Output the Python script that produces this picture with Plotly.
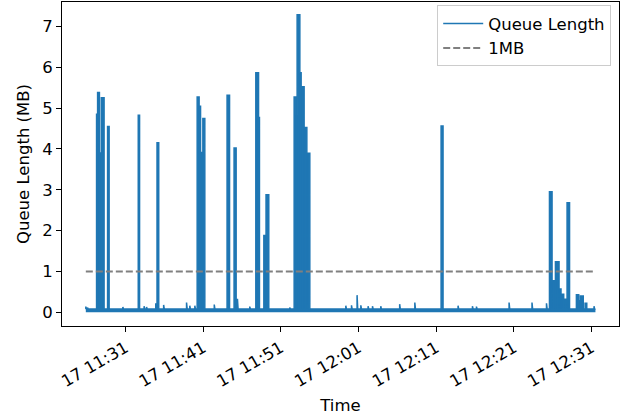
import pandas as pd
import plotly.graph_objects as go

# ---------------- data ----------------
DAY = "2019-04-17"
START = "11:25:54"          # first sample
END_S = 3936                # last sample, seconds after START
BASELINE_MB = 0.08          # idle queue level
THRESHOLD_MB = 1.0          # "1MB" reference level

# queue bursts: start / end (seconds after START) and queue length (MB)
spike_start = [83, 91, 105, 120, 168, 405, 550, 860, 875, 886, 904, 1091, 1145,
               1313, 1334, 1375, 1392, 1609, 1622, 1632, 1653, 1663, 1686, 1707,
               2744, 3581, 3601, 3627, 3655, 3670, 3691, 3717, 3789, 3807, 3820, 3856]
spike_end = [91, 105, 120, 141, 180, 415, 563, 875, 886, 904, 919, 1110, 1161,
             1334, 1341, 1392, 1413, 1622, 1632, 1653, 1663, 1686, 1707, 1730,
             2759, 3601, 3627, 3655, 3670, 3691, 3717, 3736, 3807, 3820, 3842, 3869]
spike_mb = [4.85, 5.38, 3.90, 5.25, 4.55, 4.82, 4.15, 5.27, 5.04, 3.91, 4.74, 5.31, 4.02,
            5.86, 4.77, 1.88, 2.88, 5.27, 4.83, 7.28, 5.86, 5.52, 4.52, 3.89,
            4.56, 2.95, 0.77, 1.24, 0.57, 0.44, 0.32, 2.68, 0.43, 0.28, 0.40, 0.22]

# small blips on the idle level: time (s after START) and queue length (MB)
blip_time = [0, 13, 286, 450, 469, 540, 601, 778, 803, 842, 992, 1171, 1266, 1575,
             2008, 2052, 2095, 2124, 2180, 2214, 2278, 2424, 2541, 2875, 2986, 3017,
             3269, 3446, 3558, 3925]
blip_mb = [0.14, 0.12, 0.13, 0.15, 0.13, 0.22, 0.18, 0.24, 0.16, 0.16, 0.19, 0.33, 0.14, 0.12,
           0.16, 0.17, 0.42, 0.17, 0.15, 0.15, 0.15, 0.20, 0.24, 0.16, 0.15, 0.14,
           0.24, 0.24, 0.22, 0.15]
blip_duration_s = 5

# ---------------- build series ----------------
events = list(zip(spike_start, spike_end, spike_mb))
events += [(t, t + blip_duration_s, v) for t, v in zip(blip_time, blip_mb)]
events.sort()

sec = [0]
val = [BASELINE_MB]
for s, e, h in events:
    sec += [s, s, e, e]
    val += [BASELINE_MB, h, h, BASELINE_MB]
sec.append(END_S)
val.append(BASELINE_MB)

t0 = pd.Timestamp(f"{DAY} {START}")
times = t0 + pd.to_timedelta(sec, unit="s")

BLUE = "#1f77b4"
FONT = "DejaVu Sans"
FS = 16.5

fig = go.Figure()
fig.add_trace(go.Scatter(x=times, y=val, mode="lines", fill="tozeroy",
                         fillcolor=BLUE, line=dict(width=0, color=BLUE),
                         showlegend=False, hoverinfo="skip"))
fig.add_trace(go.Scatter(x=times, y=val, mode="lines", name="Queue Length",
                         line=dict(color=BLUE, width=1.5)))
fig.add_trace(go.Scatter(x=[times[0], times[-1]], y=[THRESHOLD_MB, THRESHOLD_MB],
                         mode="lines", name="1MB",
                         line=dict(color="#808080", width=2, dash="7px,3px")))

fig.update_layout(
    width=629, height=417,
    margin=dict(l=62, r=10, t=2, b=91),
    paper_bgcolor="white", plot_bgcolor="white",
    font=dict(family=FONT, size=FS, color="black"),
    legend=dict(x=0.986, y=0.99, xanchor="right", yanchor="top",
                bgcolor="rgba(255,255,255,0.8)", bordercolor="#cccccc",
                borderwidth=1, font=dict(size=FS), itemwidth=40),
)
fig.update_xaxes(
    type="date", automargin=False,
    range=[f"{DAY} 11:22:50", f"{DAY} 12:34:32"],
    tick0=f"{DAY} 11:31:00", dtick=600000, tickformat="%d %H:%M",
    tickangle=-30, ticks="outside", ticklen=5, tickcolor="black",
    tickfont=dict(size=FS),
    showline=True, linecolor="black", linewidth=1, mirror=True,
    showgrid=False, zeroline=False,
    title=dict(text="Time", font=dict(size=FS), standoff=9),
)
fig.update_yaxes(
    automargin=False,
    range=[-0.335, 7.594], tick0=0, dtick=1,
    ticks="outside", ticklen=5, tickcolor="black",
    tickfont=dict(size=FS),
    showline=True, linecolor="black", linewidth=1, mirror=True,
    showgrid=False, zeroline=False,
    title=dict(text="Queue Length (MB)", font=dict(size=FS), standoff=8),
)

fig.write_html("out.html", config={"displayModeBar": False},
               post_script="document.body.style.margin='0';")
